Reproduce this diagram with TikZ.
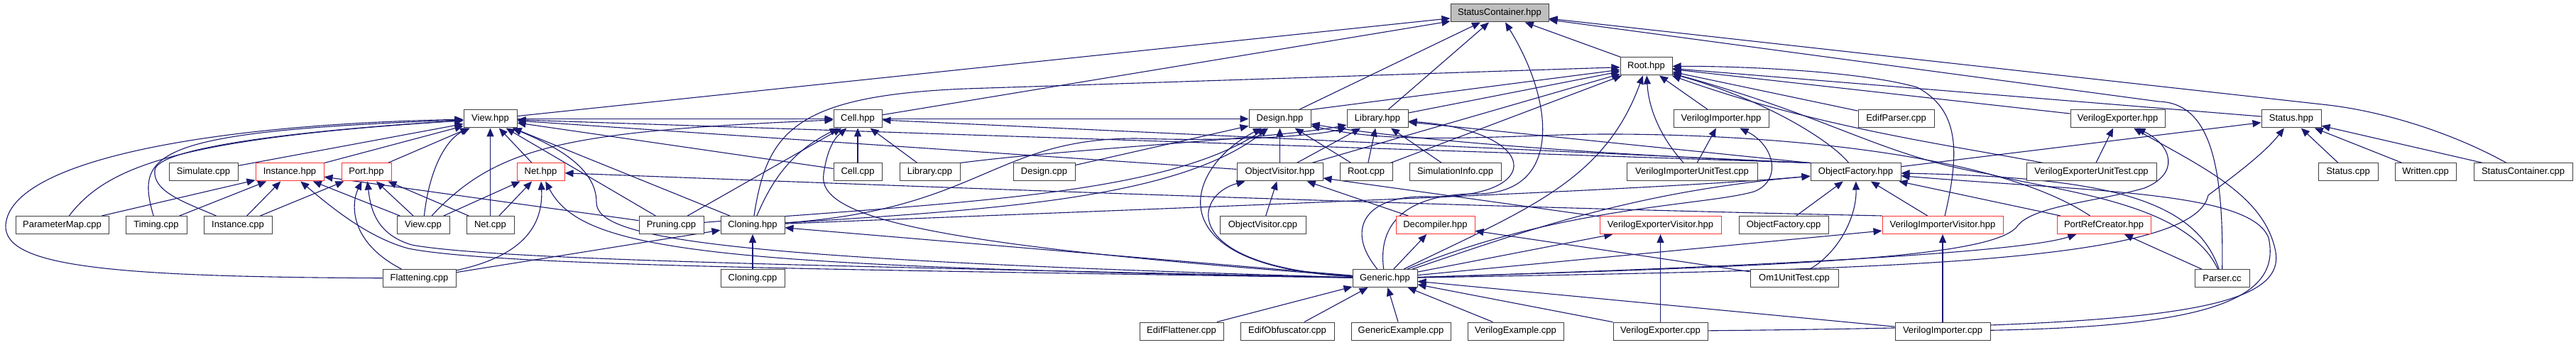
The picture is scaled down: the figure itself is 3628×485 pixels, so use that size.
\documentclass[tikz,border=0pt]{standalone}
\usepackage{fontspec}
\setmainfont{Liberation Sans}
\usetikzlibrary{arrows.meta,backgrounds}
\definecolor{eblue}{RGB}{25,25,112}
\definecolor{nred}{RGB}{255,50,50}
\definecolor{scgray}{RGB}{191,191,191}
\begin{document}
\begin{tikzpicture}[x=1pt,y=1pt,
  nd/.style={draw=black!75,line width=1pt,fill=white,minimum height=25pt,inner sep=0pt,font=\fontsize{13}{15}\selectfont},
  rd/.style={nd,draw=nred},
  e/.style={draw=eblue,line width=1.1pt,-{Triangle[length=12pt,width=10pt]}}]
\useasboundingbox (0,0) rectangle (3628,485);
% row 0
\node[nd,fill=scgray,minimum width=138pt] (SC) at (2112,466.5) {StatusContainer.hpp};
% row 1
\node[nd,minimum width=73pt] (root) at (2318.5,391.5) {Root.hpp};
% row 2
\node[nd,minimum width=75pt] (viewh) at (690.5,317.5) {View.hpp};
\node[nd,minimum width=68pt] (cellh) at (1208,317.5) {Cell.hpp};
\node[nd,minimum width=87pt] (designh) at (1802.5,317.5) {Design.hpp};
\node[nd,minimum width=86pt] (libh) at (1940,317.5) {Library.hpp};
\node[nd,minimum width=134pt] (vimph) at (2424,317.5) {VerilogImporter.hpp};
\node[nd,minimum width=107pt] (edifp) at (2670.5,317.5) {EdifParser.cpp};
\node[nd,minimum width=133pt] (vexph) at (2982.5,317.5) {VerilogExporter.hpp};
\node[nd,minimum width=84pt] (stath) at (3227,317.5) {Status.hpp};
% row 3
\node[nd,minimum width=97pt] (simcpp) at (286.5,242.5) {Simulate.cpp};
\node[rd,minimum width=96pt] (insth) at (408,242.5) {Instance.hpp};
\node[rd,minimum width=70pt] (porth) at (516,242.5) {Port.hpp};
\node[rd,minimum width=67pt] (neth) at (761.5,242.5) {Net.hpp};
\node[nd,minimum width=68pt] (cellcpp) at (1208,242.5) {Cell.cpp};
\node[nd,minimum width=85pt] (libcpp) at (1309.5,242.5) {Library.cpp};
\node[nd,minimum width=87pt] (designcpp) at (1470.5,242.5) {Design.cpp};
\node[nd,minimum width=121pt] (ovh) at (1802.5,242.5) {ObjectVisitor.hpp};
\node[nd,minimum width=74pt] (rootcpp) at (1924,242.5) {Root.cpp};
\node[nd,minimum width=129pt] (siminfo) at (2049.5,242.5) {SimulationInfo.cpp};
\node[nd,minimum width=184pt] (vimput) at (2383,242.5) {VerilogImporterUnitTest.cpp};
\node[nd,minimum width=127pt] (ofh) at (2613.5,242.5) {ObjectFactory.hpp};
\node[nd,minimum width=183pt] (vexput) at (2945.5,242.5) {VerilogExporterUnitTest.cpp};
\node[nd,minimum width=84pt] (statcpp) at (3307,242.5) {Status.cpp};
\node[nd,minimum width=86pt] (writcpp) at (3416,242.5) {Written.cpp};
\node[nd,minimum width=139pt] (sccpp) at (3553.5,242.5) {StatusContainer.cpp};
% row 4
\node[nd,minimum width=131pt] (parmap) at (87.5,168) {ParameterMap.cpp};
\node[nd,minimum width=86pt] (timing) at (220,168) {Timing.cpp};
\node[nd,minimum width=96pt] (instcpp) at (335,168) {Instance.cpp};
\node[nd,minimum width=74pt] (viewcpp) at (596,168) {View.cpp};
\node[nd,minimum width=67pt] (netcpp) at (690.5,168) {Net.cpp};
\node[nd,minimum width=91pt] (pruning) at (945.5,168) {Pruning.cpp};
\node[nd,minimum width=90pt] (cloneh) at (1060,168) {Cloning.hpp};
\node[nd,minimum width=121pt] (ovcpp) at (1778.5,168) {ObjectVisitor.cpp};
\node[rd,minimum width=111pt] (decomp) at (2021.5,168) {Decompiler.hpp};
\node[rd,minimum width=171pt] (vexpv) at (2338.5,168) {VerilogExporterVisitor.hpp};
\node[nd,minimum width=126pt] (ofcpp) at (2512,168) {ObjectFactory.cpp};
\node[rd,minimum width=170pt] (vimpv) at (2736,168) {VerilogImporterVisitor.hpp};
\node[rd,minimum width=132pt] (portref) at (2963,168) {PortRefCreator.hpp};
% row 5
\node[nd,minimum width=103pt] (flat) at (590.5,93) {Flattening.cpp};
\node[nd,minimum width=90pt] (clonecpp) at (1060,93) {Cloning.cpp};
\node[nd,minimum width=91pt] (generic) at (1950.5,93) {Generic.hpp};
\node[nd,minimum width=124pt] (om1) at (2527,93) {Om1UnitTest.cpp};
\node[nd,minimum width=77pt] (parser) at (3129.5,93) {Parser.cc};
% row 6
\node[nd,minimum width=118pt] (ediffl) at (1664,18.5) {EdifFlattener.cpp};
\node[nd,minimum width=132pt] (edifob) at (1813,18.5) {EdifObfuscator.cpp};
\node[nd,minimum width=140pt] (genex) at (1973,18.5) {GenericExample.cpp};
\node[nd,minimum width=135pt] (vexample) at (2134.5,18.5) {VerilogExample.cpp};
\node[nd,minimum width=133pt] (vexpcpp) at (2338.5,18.5) {VerilogExporter.cpp};
\node[nd,minimum width=134pt] (vimpcpp) at (2736,18.5) {VerilogImporter.cpp};

\begin{scope}[on background layer]
\fill[white] (0,0) rectangle (3628,485);
% --- StatusContainer.hpp
\draw[e] (root) -- (SC);
\draw[e] (viewh) -- (SC);
\draw[e] (cellh) -- (SC);
\draw[e] (designh) -- (SC);
\draw[e] (libh) -- (SC);
\draw[e] (generic) .. controls (1940,170) and (1980,212) .. (2080,212) .. controls (2200,212) and (2190,340) .. (SC);
\draw[e] (sccpp) .. controls (3450,300) and (3350,330) .. (3270,338) -- (SC);
\draw[e] (parser) .. controls (3132,260) and (3110,340) .. (3040,342) -- (SC);
% --- Root.hpp
\draw[e] (designh.north east) -- (root);
\draw[e] (libh) -- (root);
\draw[e] (rootcpp) -- (root);
\draw[e] (ovh) -- (root);
\draw[e] (vimph) -- (root);
\draw[e] (stath) -- (root);
\draw[e] (vexph) -- (root);
\draw[e] (edifp) -- (root);
\draw[e] (vexput) .. controls (2750,280) and (2560,305) .. (root);
\draw[e] (cloneh) .. controls (1080,300) and (1120,350) .. (1360,360) -- (root);
\draw[e] (generic) .. controls (2150,190) and (2260,230) .. (root);
\draw[e] (vimput) .. controls (2340,290) and (2322,330) .. (root);
\draw[e] (vimpv) .. controls (2760,270) and (2760,330) .. (2700,362) .. controls (2620,385) and (2450,392) .. (root);
\draw[e] (ofh) .. controls (2585,280) and (2500,340) .. (root);
\draw[e] (parser) .. controls (3080,200) and (2900,215) .. (2800,240) .. controls (2650,265) and (2580,320) .. (root);
% --- View.hpp
\draw[e] (simcpp) -- (viewh);
\draw[e] (insth) -- (viewh);
\draw[e] (porth) -- (viewh);
\draw[e] (neth) -- (viewh);
\draw[e] (netcpp) -- (viewh);
\draw[e] (pruning) -- (viewh);
\draw[e] (cloneh) -- (viewh);
\draw[e] (cellcpp) -- (viewh);
\draw[e] (ovh) -- (viewh);
\draw[e] (ofh.north west) -- (viewh);
\draw[e] (parmap) .. controls (150,250) and (250,290) .. (viewh);
\draw[e] (timing) .. controls (190,270) and (215,300) .. (viewh);
\draw[e] (instcpp) .. controls (260,200) and (215,215) .. (218,245) .. controls (220,275) and (400,300) .. (viewh);
\draw[e] (flat) .. controls (150,95) and (5,110) .. (8,168) .. controls (15,260) and (300,310) .. (viewh);
\draw[e] (viewcpp) .. controls (605,250) and (630,290) .. (viewh);
\draw[e] (generic) .. controls (1000,120) and (840,150) .. (840,200) .. controls (840,250) and (780,280) .. (viewh);
% --- Cell.hpp
\draw[e] (viewh) -- (cellh);
\draw[e] (cellcpp) -- (cellh);
\draw[e] (libcpp) -- (cellh);
\draw[e] (pruning) -- (cellh);
\draw[e] (ofh.north west) -- (cellh);
\draw[e] (cloneh) to[bend left=20] (cellh);
\draw[e] (generic) .. controls (1300,140) and (1150,180) .. (1160,240) .. controls (1165,275) and (1175,290) .. (cellh);
\draw[e] (viewcpp) .. controls (700,280) and (800,300) .. (cellh);
% --- Design.hpp
\draw[e] (cellh) -- (designh);
\draw[e] (designcpp) -- (designh);
\draw[e] (ovh) -- (designh);
\draw[e] (rootcpp) -- (designh);
\draw[e] (pruning) .. controls (1350,200) and (1640,210) .. (designh);
\draw[e] (cloneh) .. controls (1400,190) and (1660,205) .. (designh);
\draw[e] (generic) .. controls (1620,110) and (1670,250) .. (designh);
\draw[e] (ofh.north west) .. controls (2300,265) and (2000,285) .. (designh);
\draw[e] (portref) .. controls (2780,290) and (2350,300) .. (2200,295) .. controls (2050,290) and (1950,285) .. (designh);
% --- Library.hpp
\draw[e] (ovh) -- (libh);
\draw[e] (rootcpp) -- (libh);
\draw[e] (siminfo) -- (libh);
\draw[e] (ofh.north west) -- (libh);
\draw[e] (libcpp.north east) .. controls (1500,275) and (1800,290) .. (libh);
\draw[e] (cloneh) .. controls (1380,190) and (1400,290) .. (1600,290) .. controls (1750,285) and (1860,295) .. (libh);
\draw[e] (generic) .. controls (1895,160) and (1920,210) .. (2010,208) .. controls (2180,205) and (2170,300) .. (libh);
% --- Instance.hpp
\draw[e] (parmap) -- (insth);
\draw[e] (timing) -- (insth);
\draw[e] (instcpp) -- (insth);
\draw[e] (viewcpp) -- (insth);
\draw[e] (pruning) -- (insth);
\draw[e] (generic) .. controls (1200,105) and (700,110) .. (575,135) .. controls (520,150) and (470,190) .. (insth);
% --- Port.hpp
\draw[e] (instcpp) -- (porth);
\draw[e] (viewcpp) -- (porth);
\draw[e] (netcpp) -- (porth);
\draw[e] (flat) .. controls (490,145) and (495,200) .. (porth);
\draw[e] (generic) .. controls (1200,110) and (700,118) .. (580,140) .. controls (530,155) and (522,190) .. (porth);
% --- Net.hpp
\draw[e] (viewcpp) -- (neth);
\draw[e] (netcpp) -- (neth);
\draw[e] (flat) .. controls (740,125) and (765,170) .. (neth);
\draw[e] (generic) .. controls (1000,110) and (820,130) .. (neth);
\draw[e] (vimpv.north west) .. controls (2000,195) and (1300,222) .. (neth);
% --- Cloning.hpp
\draw[e] (clonecpp) -- (cloneh);
\draw[e] (flat) -- (cloneh);
\draw[e] (generic) -- (cloneh);
% --- ObjectVisitor.hpp
\draw[e] (ovcpp) -- (ovh);
\draw[e] (decomp) -- (ovh);
\draw[e] (vexpv) -- (ovh);
\draw[e] (generic) .. controls (1660,110) and (1680,210) .. (ovh);
% --- Decompiler.hpp
\draw[e] (generic) -- (decomp);
\draw[e] (om1) -- (decomp);
% --- ObjectFactory.hpp
\draw[e] (ofcpp) -- (ofh);
\draw[e] (vimpv) -- (ofh);
\draw[e] (portref) -- (ofh);
\draw[e] (om1) .. controls (2590,130) and (2615,180) .. (ofh);
\draw[e] (parser) .. controls (3090,210) and (2950,235) .. (ofh);
\draw[e] (generic) .. controls (2150,160) and (2300,215) .. (ofh);
\draw[e] (cloneh) .. controls (1600,190) and (2300,215) .. (ofh);
\draw[e] (vimpcpp) .. controls (3100,25) and (3215,60) .. (3195,150) .. controls (3170,215) and (2950,215) .. (ofh);
% --- VerilogImporter.hpp
\draw[e] (vimput) -- (vimph);
\draw[e] (generic) .. controls (2200,195) and (2400,195) .. (2470,215) .. controls (2510,230) and (2500,280) .. (vimph);
% --- VerilogExporter.hpp
\draw[e] (vexput) -- (vexph);
\draw[e] (generic) .. controls (2500,110) and (2800,120) .. (2840,165) .. controls (2860,195) and (2950,200) .. (3020,220) .. controls (3070,240) and (3060,280) .. (vexph);
\draw[e] (vexpcpp) .. controls (3000,25) and (3220,40) .. (3205,130) .. controls (3190,210) and (3100,250) .. (vexph);
% --- Status.hpp
\draw[e] (statcpp) -- (stath);
\draw[e] (writcpp) -- (stath);
\draw[e] (sccpp) -- (stath);
\draw[e] (ofh) -- (stath);
\draw[e] (generic) .. controls (2600,105) and (3090,110) .. (3110,210) .. controls (3150,240) and (3190,270) .. (stath);
% --- visitors, PortRefCreator
\draw[e] (vexpcpp) -- (vexpv);
\draw[e] (generic) -- (vexpv);
\draw[e] (vimpcpp) -- (vimpv);
\draw[e] (generic) -- (vimpv);
\draw[e] (parser) -- (portref);
\draw[e] (generic) .. controls (2500,110) and (2850,130) .. (portref);
% --- Generic.hpp
\draw[e] (ediffl) -- (generic);
\draw[e] (edifob) -- (generic);
\draw[e] (genex) -- (generic);
\draw[e] (vexample) -- (generic);
\draw[e] (vexpcpp) -- (generic);
\draw[e] (vimpcpp) -- (generic);
\end{scope}
\end{tikzpicture}
\end{document}
